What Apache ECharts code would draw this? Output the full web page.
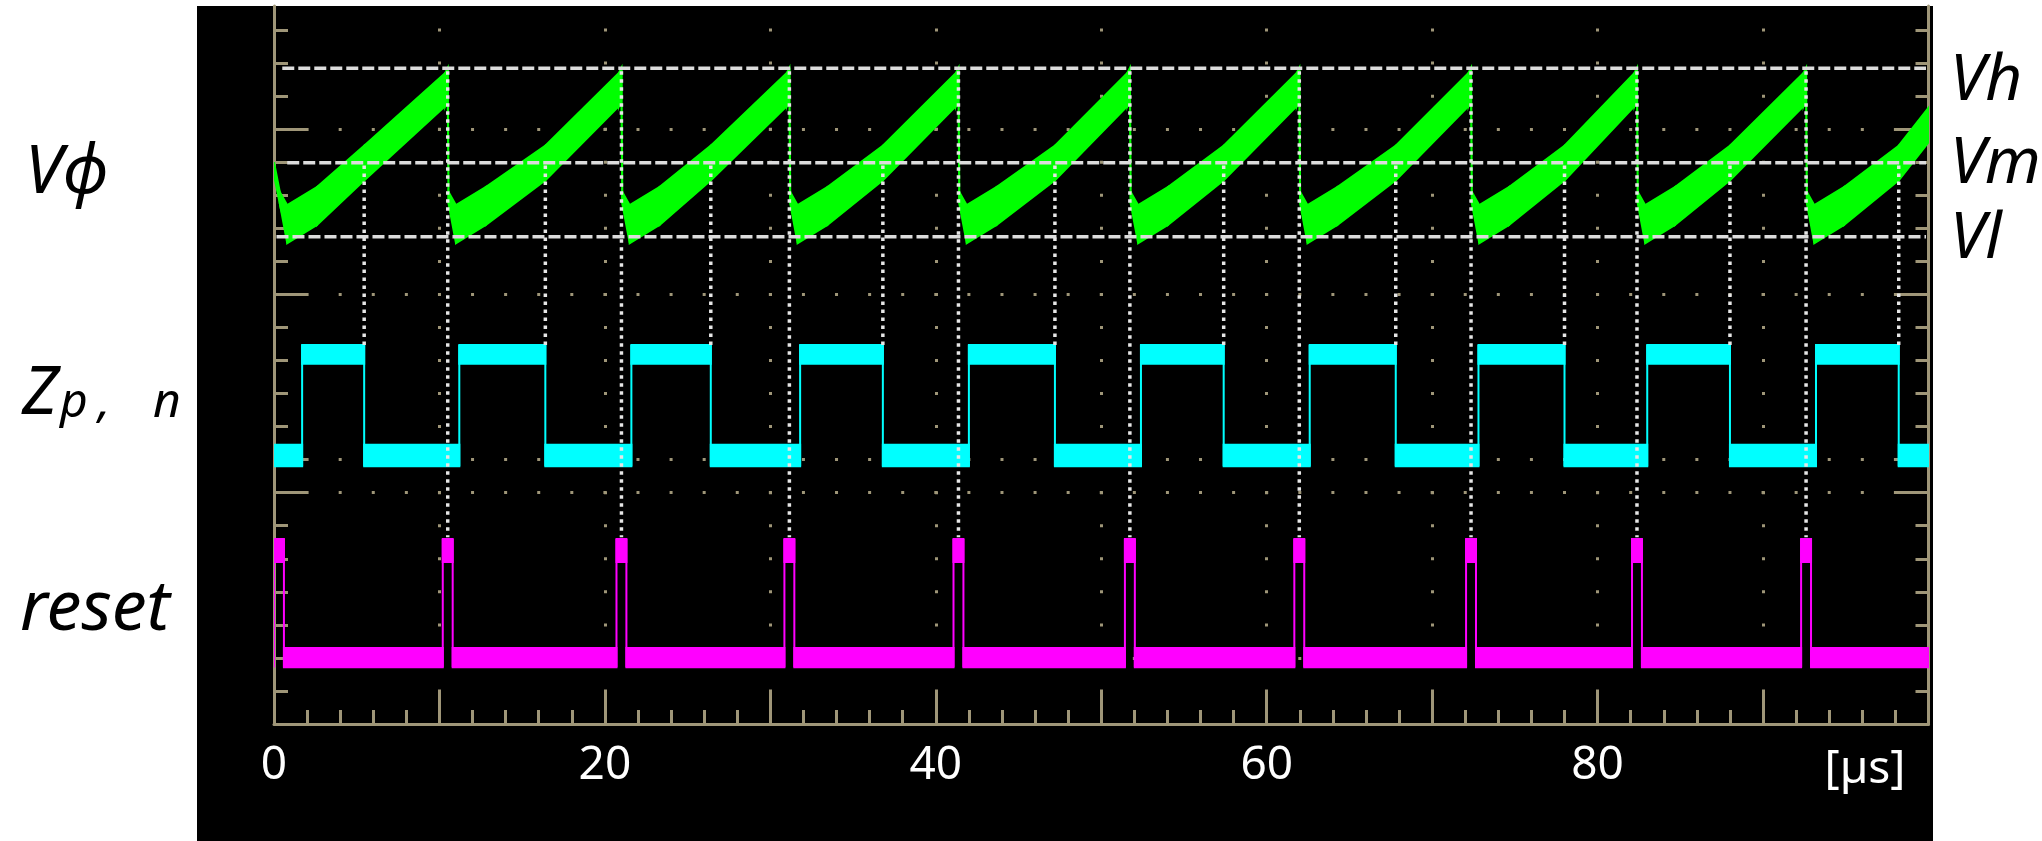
<!DOCTYPE html>
<html>
<head>
<meta charset="utf-8">
<script src="https://cdn.jsdelivr.net/npm/echarts@6/dist/echarts.min.js"></script>
<style>
  html, body { margin: 0; padding: 0; background: #fff; }
  #screen { position: absolute; left: 197px; top: 6px; width: 1736px; height: 835px; background: #000; }
  #chart { position: absolute; left: 0; top: 0; width: 2042px; height: 841px; }
</style>
</head>
<body>
<div id="screen"></div>
<div id="chart"></div>
<script>
// x in µs, y in scope minor divisions counted up from the bottom edge
const resetTimes = [0.3, 10.5, 21.0, 31.15, 41.37, 51.73, 61.97, 72.35, 82.38, 92.6];
const zRise = [1.7, 11.2, 21.6, 31.8, 42.0, 52.4, 62.6, 72.8, 83.0, 93.2];
const zFall = [5.45, 16.4, 26.4, 36.8, 47.2, 57.4, 67.8, 78.0, 88.0, 98.2];

// V phi band: [µs from reset, lower, upper]
const rampStart = [[0.05, 15.75, 16.1], [0.5, 14.55, 15.7], [2.3, 15.1, 16.25]];
const rampAtVm = [16.45, 17.5];           // band when Z falls
const rampTop = [[-0.15, 18.7, 19.7], [0, 18.9, 19.85]]; // just before the next reset
const vphiFirst = [0, 16.6, 17.0];
const vphiLast = [100, 17.6, 18.65];

const zLow = [7.8, 8.45];
const zHigh = [10.9, 11.47];
const resetBase = [1.72, 2.3];
const resetPeak = [4.9, 5.6];
const resetHalfWidth = 0.3;

const refNames = ['Vh', 'Vm', 'Vl'];
const refLevels = [19.84, 16.98, 14.74];
const refStart = [0.5, 0.8, 0.15];
const refEnd = 99.85;

const vmLineSpan = [16.9, 11.45];
const vhLineSpan = [19.75, 5.65];

const xLabels = [0, 20, 40, 60, 80];
const yMinorTicks = [1, 2, 3, 4, 5, 6, 7, 8, 9, 10, 11, 12, 13, 14, 15, 16, 17, 18, 19, 20, 21];
const yMajorTicks = [2, 7, 8, 13, 18];

const tan = '#9f9678';

// build band outlines from the read points
const vphi = [vphiFirst];
resetTimes.forEach((r, k) => {
  if (k > 0) rampTop.forEach(p => vphi.push([r + p[0], p[1], p[2]]));
  rampStart.forEach(p => vphi.push([r + p[0], p[1], p[2]]));
  vphi.push([zFall[k], rampAtVm[0], rampAtVm[1]]);
});
vphi.push(vphiLast);

const zTrace = [[0, zLow[0], zLow[1]]];
zRise.forEach((t, k) => {
  zTrace.push([t, ...zLow], [t, ...zHigh], [zFall[k], ...zHigh], [zFall[k], ...zLow]);
});
zTrace.push([100, ...zLow]);

const resetTrace = [[0, ...resetBase]];
resetTimes.forEach(r => {
  const a = Math.max(0, r - resetHalfWidth), b = r + resetHalfWidth;
  resetTrace.push([a, ...resetBase], [a, ...resetPeak], [b, ...resetPeak], [b, ...resetBase]);
});
resetTrace.push([100, ...resetBase]);

function band(name, pts, color) {
  return {
    name, type: 'custom', clip: true, z: 2, silent: true,
    data: pts,
    encode: { x: 0, y: [1, 2] },
    renderItem(params, api) {
      const i = params.dataIndex;
      if (i >= pts.length - 1) return null;
      const a = pts[i], b = pts[i + 1];
      return {
        type: 'polygon',
        shape: { points: [api.coord([a[0], a[2]]), api.coord([b[0], b[2]]), api.coord([b[0], b[1]]), api.coord([a[0], a[1]])] },
        style: { fill: color, stroke: color, lineWidth: 2 }
      };
    }
  };
}

function vLine(t, span) {
  return {
    type: 'line', z: 4, silent: true, symbol: 'none',
    data: [[t, span[0]], [t, span[1]]],
    lineStyle: { color: '#e6e6e6', width: 3.5, type: [3.5, 4.5] }
  };
}

const series = [
  band('Vphi', vphi, '#00ff00'),
  band('Zpn', zTrace, '#00ffff'),
  band('reset', resetTrace, '#ff00ff'),
  ...refLevels.map((v, i) => ({
    name: refNames[i], type: 'line', z: 5, silent: true, symbol: 'none',
    data: [[refStart[i], v], [refEnd, v]],
    lineStyle: { color: '#dcdcdc', width: 3.5, type: [12, 4] }
  })),
  ...zFall.map(t => vLine(t, vmLineSpan)),
  ...resetTimes.slice(1).map(t => vLine(t, vhLineSpan))
];

const tickStyle = { color: tan, width: 3 };
const yBase = { type: 'value', min: 0, max: 21.726, axisLabel: { show: false }, splitLine: { show: false } };

const labelFont = '"Noto Sans", "DejaVu Sans", sans-serif';
const sideText = (text, x, y, size) => ({
  type: 'text', x, y, silent: true,
  style: { text, fill: '#000', font: 'italic ' + size + 'px ' + labelFont, textAlign: 'left', textVerticalAlign: 'middle' }
});

const chart = echarts.init(document.getElementById('chart'));
chart.setOption({
  animation: false,
  backgroundColor: 'transparent',
  grid: { left: 274, right: 113.5, top: 6, bottom: 117, containLabel: false, outerBoundsMode: 'none' },
  xAxis: [
    {
      type: 'value', position: 'bottom', min: 0, max: 100, interval: 2,
      axisLine: { show: true, onZero: false, lineStyle: tickStyle },
      axisTick: { inside: true, length: 14, lineStyle: tickStyle },
      axisLabel: { show: false }, splitLine: { show: false }
    },
    {
      type: 'value', position: 'bottom', min: 0, max: 100, interval: 10,
      axisLine: { show: false, onZero: false },
      axisTick: { inside: true, length: 34, lineStyle: tickStyle },
      axisLabel: { customValues: xLabels, color: '#fff', fontSize: 46, fontFamily: labelFont, margin: 19 },
      splitLine: { show: true, lineStyle: { color: tan, width: 3, type: [3, 30.048], dashOffset: 10.5 } }
    }
  ],
  yAxis: [
    { ...yBase, position: 'left', axisLine: { show: true, onZero: false, lineStyle: tickStyle },
      axisTick: { inside: true, length: 14, customValues: yMinorTicks, lineStyle: tickStyle } },
    { ...yBase, position: 'left', axisLine: { show: false, onZero: false },
      axisTick: { inside: true, length: 33, customValues: yMajorTicks, lineStyle: tickStyle },
      splitLine: { show: true, lineStyle: { color: tan, width: 3, type: [3, 30.09], dashOffset: 1.5 } } },
    { ...yBase, position: 'right', axisLine: { show: true, onZero: false, lineStyle: tickStyle },
      axisTick: { inside: true, length: 13, customValues: yMinorTicks, lineStyle: tickStyle } },
    { ...yBase, position: 'right', axisLine: { show: false, onZero: false },
      axisTick: { inside: true, length: 33, customValues: yMajorTicks, lineStyle: tickStyle } }
  ],
  graphic: [
    sideText('Vϕ', 25, 174, 68),
    sideText('Z', 22, 395, 68),
    sideText('p', 60, 403, 48),
    sideText(',', 98, 403, 48),
    sideText('n', 153, 403, 48),
    sideText('reset', 20, 610, 70),
    sideText('Vh', 1950, 82, 64),
    sideText('Vm', 1950, 165, 64),
    sideText('Vl', 1950, 240, 64),
    { type: 'text', x: 1865, y: 770, silent: true,
      style: { text: '[µs]', fill: '#fff', font: '46px ' + labelFont, textAlign: 'center', textVerticalAlign: 'middle' } }
  ],
  series
});
</script>
</body>
</html>
